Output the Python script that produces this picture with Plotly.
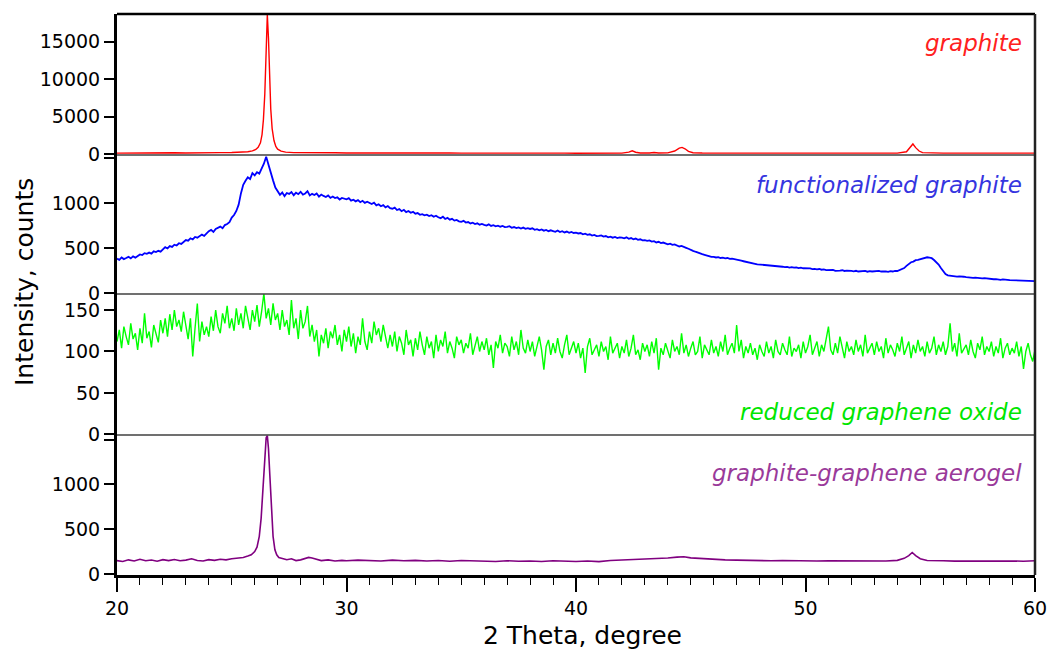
import numpy as np
import plotly.graph_objects as go
from plotly.subplots import make_subplots

# ---------------- data ----------------
X_START = 20.0
X_STEP = 0.1

graphite_x = [20.0, 20.5, 21.0, 21.5, 22.0, 22.5, 23.0, 23.5, 24.0, 24.5, 25.0, 25.4, 25.7, 25.9,
              26.05, 26.15, 26.25, 26.32, 26.38, 26.44, 26.5, 26.55, 26.6, 26.65, 26.7, 26.76, 26.84,
              26.92, 27.0, 27.15, 27.35, 27.7, 28.0, 28.5, 29.0, 29.5, 30.0, 30.5, 31.0, 31.5, 32.0,
              32.5, 33.0, 33.5, 34.0, 34.5, 35.0, 35.5, 36.0, 36.5, 37.0, 37.5, 38.0, 38.5, 39.0,
              39.5, 40.0, 40.5, 41.0, 41.5, 42.0, 42.3, 42.45, 42.6, 42.8, 43.2, 43.4, 43.6, 44.0,
              44.3, 44.5, 44.62, 44.75, 44.9, 45.1, 45.5, 46.0, 47.0, 48.0, 49.0, 50.0, 51.0, 52.0,
              53.0, 54.0, 54.4, 54.55, 54.68, 54.8, 54.95, 55.1, 55.5, 56.0, 57.0, 58.0, 59.0, 60.0]
graphite_y = [110, 140, 120, 160, 130, 170, 140, 180, 150, 190, 200, 230, 300, 420,
              600, 900, 1500, 2600, 4600, 8000, 13500, 18600, 15500, 10000, 6000, 3400, 1800,
              1000, 650, 380, 250, 190, 170, 160, 150, 165, 140, 150, 135, 155, 130,
              145, 125, 140, 120, 135, 120, 130, 115, 130, 115, 125, 110, 125, 110,
              120, 105, 115, 105, 110, 110, 250, 420, 240, 140, 130, 200, 130, 150,
              400, 780, 880, 700, 350, 170, 130, 120, 115, 120, 110, 115, 110, 115,
              110, 120, 300, 800, 1340, 850, 400, 180, 130, 120, 115, 120, 110, 115]

func_graphite_y = [
    385, 372, 398, 380, 392, 405, 388, 410, 396, 418,
    432, 425, 446, 438, 452, 441, 466, 458, 472, 463,
    488, 512, 498, 524, 515, 540, 531, 556, 548, 571,
    592, 585, 611, 598, 626, 618, 640, 652, 637, 668,
    690, 705, 682, 716, 728, 741, 722, 758, 770, 790,
    842, 870, 915, 985, 1110, 1205, 1250, 1290, 1270, 1335,
    1310, 1345, 1330, 1380, 1440, 1517, 1420, 1350, 1255, 1175,
    1135, 1095, 1120, 1080, 1115, 1105, 1125, 1090, 1118, 1102,
    1128, 1096, 1110, 1135, 1088, 1105, 1092, 1110, 1075, 1098,
    1082, 1070, 1088, 1060, 1075, 1058, 1066, 1042, 1060, 1050,
    1045, 1058, 1030, 1040, 1022, 1035, 1012, 1028, 1005, 1018,
    1000, 992, 1008, 978, 990, 968, 980, 955, 970, 946,
    940, 952, 925, 935, 912, 928, 902, 915, 895, 905,
    885, 892, 872, 880, 866, 874, 858, 868, 850, 862,
    845, 835, 852, 826, 838, 818, 828, 808, 816, 800,
    795, 805, 786, 792, 776, 784, 770, 778, 762, 770,
    760, 752, 766, 748, 756, 744, 752, 740, 748, 736,
    738, 746, 728, 736, 724, 732, 720, 730, 716, 724,
    715, 722, 706, 712, 700, 710, 696, 704, 690, 700,
    692, 684, 698, 680, 690, 676, 686, 672, 682, 670,
    674, 665, 670, 656, 662, 650, 656, 642, 648, 636,
    637, 644, 630, 636, 622, 630, 618, 626, 614, 622,
    618, 610, 622, 606, 614, 600, 608, 594, 600, 588,
    590, 582, 588, 574, 580, 565, 572, 558, 564, 552,
    545, 552, 538, 544, 530, 520, 526, 512, 505, 495,
    480, 472, 462, 450, 442, 435, 428, 418, 412, 405,
    405, 398, 402, 392, 396, 388, 392, 382, 386, 378,
    375, 368, 362, 356, 352, 348, 340, 335, 328, 322,
    320, 314, 318, 308, 312, 305, 309, 300, 304, 296,
    295, 290, 294, 286, 290, 285, 288, 280, 284, 278,
    278, 272, 276, 268, 272, 266, 270, 262, 265, 258,
    258, 254, 260, 250, 255, 252, 256, 248, 252, 246,
    248, 244, 250, 242, 247, 245, 249, 240, 246, 242,
    245, 240, 248, 242, 246, 243, 238, 246, 242, 250,
    248, 256, 268, 280, 305, 330, 345, 352, 368, 372,
    380, 388, 395, 400, 396, 390, 370, 350, 320, 280,
    240, 215, 200, 196, 190, 192, 186, 188, 182, 184,
    180, 176, 178, 172, 174, 170, 172, 166, 168, 164,
    160, 162, 156, 158, 152, 150, 154, 148, 150, 146,
    145, 148, 142, 146, 140, 143, 138, 141, 136, 139,
    135]

rgo_y = [
    112, 126, 104, 130, 118, 108, 134, 115, 122, 102,
    128, 110, 146, 116, 124, 105, 132, 120, 111, 138,
    122, 140, 118, 145, 126, 150, 130, 138, 124, 148,
    132, 115, 140, 94, 128, 158, 112, 136, 120, 130,
    118, 142, 125, 150, 130, 122, 146, 134, 155, 128,
    140, 125, 152, 132, 146, 128, 155, 138, 126, 150,
    136, 156, 130, 148, 170, 140, 152, 132, 158, 138,
    146, 126, 150, 130, 138, 120, 162, 128, 140, 115,
    150, 128, 136, 155, 118, 132, 112, 126, 94, 120,
    110, 128, 104, 124, 116, 132, 108, 120, 100, 126,
    112, 130, 106, 122, 98, 118, 108, 140, 112, 102,
    124, 110, 136, 120, 128, 112, 132, 118, 104, 120,
    106, 124, 100, 118, 110, 96, 126, 108, 114, 94,
    116, 102, 124, 108, 96, 118, 104, 112, 92, 120,
    100, 114, 106, 124, 98, 112, 104, 92, 118, 108,
    114, 98, 110, 104, 122, 96, 108, 118, 100, 112,
    102, 116, 96, 108, 80, 112, 104, 120, 98, 110,
    106, 94, 118, 102, 112, 96, 126, 104, 98, 114,
    100, 112, 94, 108, 118, 102, 78, 106, 114, 96,
    110, 98, 116, 100, 92, 108, 120, 96, 104, 112,
    98, 110, 92, 104, 74, 106, 116, 96, 102, 108,
    94, 112, 100, 106, 90, 118, 98, 104, 110, 92,
    106, 98, 114, 94, 104, 120, 96, 102, 90, 110,
    100, 108, 94, 112, 98, 116, 78, 104, 96, 110,
    102, 92, 114, 100, 106, 96, 122, 98, 108, 94,
    104, 112, 96, 100, 118, 92, 108, 102, 96, 114,
    98, 106, 94, 112, 100, 120, 96, 104, 110, 98,
    132, 100, 114, 92, 106, 98, 110, 96, 104, 90,
    108, 100, 94, 112, 98, 106, 92, 114, 100, 96,
    110, 102, 96, 118, 94, 104, 100, 108, 92, 112,
    98, 106, 120, 96, 104, 112, 94, 108, 100, 116,
    130, 102, 96, 110, 98, 118, 104, 92, 112, 100,
    106, 96, 114, 100, 108, 94, 120, 98, 104, 110,
    96, 112, 100, 106, 92, 116, 98, 108, 102, 94,
    110, 100, 118, 96, 104, 112, 92, 108, 98, 114,
    100, 106, 94, 112, 98, 104, 118, 96, 108, 100,
    112, 96, 106, 134, 100, 110, 94, 122, 98, 104,
    108, 96, 114, 100, 92, 110, 102, 118, 96, 106,
    100, 112, 94, 106, 98, 116, 92, 104, 110, 96,
    104, 98, 112, 94, 106, 79, 100, 110, 96, 88,
    102]

aerogel_x = [20.0, 20.25, 20.5, 20.75, 21.0, 21.25, 21.5, 21.75, 22.0, 22.25, 22.5, 22.75, 23.0,
             23.25, 23.5, 23.75, 24.0, 24.25, 24.5, 24.75, 25.0, 25.25, 25.5, 25.7, 25.85, 26.0,
             26.1, 26.2, 26.28, 26.36, 26.44, 26.5, 26.55, 26.6, 26.66, 26.72, 26.8, 26.88, 26.96,
             27.05, 27.2, 27.4, 27.6, 27.8, 28.0, 28.2, 28.35, 28.5, 28.7, 28.9, 29.2, 29.5, 29.8,
             30.0, 30.5, 31.0, 31.5, 32.0, 32.5, 33.0, 33.5, 34.0, 34.5, 35.0, 35.5, 36.0, 36.5,
             37.0, 37.5, 38.0, 38.5, 39.0, 39.5, 40.0, 40.5, 41.0, 41.5, 42.0, 42.5, 43.0, 43.5,
             44.0, 44.4, 44.7, 45.0, 45.5, 46.0, 46.5, 47.0, 47.5, 48.0, 48.5, 49.0, 49.5, 50.0,
             50.5, 51.0, 51.5, 52.0, 52.5, 53.0, 53.5, 54.0, 54.3, 54.5, 54.65, 54.8, 55.0, 55.3,
             55.6, 56.0, 56.5, 57.0, 57.5, 58.0, 58.5, 59.0, 59.5, 60.0]
aerogel_y = [150, 140, 158, 145, 165, 148, 156, 142, 160, 150, 162, 148, 155,
             170, 150, 145, 160, 152, 165, 158, 170, 175, 185, 200, 215, 250,
             300, 420, 620, 950, 1300, 1520, 1545, 1400, 1100, 750, 420, 270, 215,
             185, 175, 160, 170, 150, 158, 175, 185, 178, 160, 150, 158, 145, 152,
             148, 155, 150, 145, 155, 148, 152, 145, 150, 142, 150, 145, 148, 140,
             148, 142, 146, 140, 148, 142, 140, 146, 138, 150, 155, 162, 165, 172,
             178, 188, 192, 180, 170, 162, 158, 155, 150, 152, 148, 150, 146, 150,
             145, 148, 146, 150, 144, 148, 146, 152, 175, 205, 240, 205, 170, 150,
             146, 148, 144, 146, 142, 148, 144, 146, 142, 148]

panel_labels = ["graphite", "functionalized graphite",
                "reduced graphene oxide", "graphite-graphene aerogel"]
y_tickvals = [[0, 5000, 10000, 15000], [0, 500, 1000, 1500],
              [0, 50, 100, 150], [0, 500, 1000, 1500]]
y_ticktext = [["0", "5000", "10000", "15000"], ["0", "500", "1000", ""],
              ["0", "50", "100", "150"], ["0", "500", "1000", ""]]
x_tickvals = [20, 30, 40, 50, 60]

# ---------------- styling ----------------
line_colors = ["#ff0000", "#0000ff", "#00ff00", "#800080"]
line_widths = [1.4, 1.8, 1.4, 1.6]
label_colors = ["#ff2020", "#3535e0", "#00e600", "#9a3a9a"]
y_ranges = [[-134, 18717], [-8, 1537], [-0.85, 169.4], [-11, 1551]]
FONT = "DejaVu Sans"

W, H = 1049, 650
ML, MR, MT, MB = 117, 14, 14, 75
PH = H - MT - MB
PW = W - ML - MR
bounds_px = [14, 155, 294, 435, 575]          # panel edges, from top


def py(p):  # pixel y -> paper y
    return (H - MB - p) / PH


def px(p):  # pixel x -> paper x
    return (p - ML) / PW


fine_x = [round(X_START + X_STEP * i, 2) for i in range(len(func_graphite_y))]
rgo_x = [round(X_START + X_STEP * i, 2) for i in range(len(rgo_y))]

series = [(graphite_x, graphite_y), (fine_x, func_graphite_y),
          (rgo_x, rgo_y), (aerogel_x, aerogel_y)]

fig = make_subplots(rows=4, cols=1, shared_xaxes=True, vertical_spacing=0)

for i, (xs, ys) in enumerate(series):
    fig.add_trace(go.Scatter(x=xs, y=ys, mode="lines",
                             line=dict(color=line_colors[i], width=line_widths[i]),
                             showlegend=False), row=i + 1, col=1)

for i in range(4):
    top = py(bounds_px[i])
    bot = py(bounds_px[i + 1])
    yname = "yaxis" if i == 0 else f"yaxis{i + 1}"
    fig.layout[yname].update(
        domain=[bot, top], range=y_ranges[i], tickvals=y_tickvals[i],
        ticktext=y_ticktext[i], ticks="outside", ticklen=10, tickwidth=1.5,
        tickcolor="black", showline=True, linewidth=3, linecolor="black",
        showgrid=False, zeroline=False, automargin=False,
        tickfont=dict(family=FONT, size=19, color="black"))
    xname = "xaxis" if i == 0 else f"xaxis{i + 1}"
    if i < 3:
        fig.layout[xname].update(range=[20, 60], showticklabels=False, ticks="",
                                 showline=False, showgrid=False, zeroline=False,
                                 automargin=False)
    else:
        fig.layout[xname].update(
            range=[20, 60], tickvals=x_tickvals, ticks="outside", ticklen=14,
            tickwidth=1.5, tickcolor="black", showline=True, linewidth=2.5,
            linecolor="black", showgrid=False, zeroline=False, automargin=False,
            minor=dict(dtick=1, ticks="outside", ticklen=7, tickwidth=1.3,
                       tickcolor="black"),
            tickfont=dict(family=FONT, size=19, color="black"))

shapes = []
# panel separators
for b in bounds_px[1:4]:
    shapes.append(dict(type="line", xref="paper", yref="paper", x0=0, x1=1,
                       y0=py(b), y1=py(b), line=dict(color="#404040", width=1.5)))
# top border and right border
shapes.append(dict(type="line", xref="paper", yref="paper", x0=0, x1=1, y0=1, y1=1,
                   line=dict(color="black", width=2.5)))
shapes.append(dict(type="line", xref="paper", yref="paper", x0=1, x1=1, y0=0, y1=1,
                   line=dict(color="#222222", width=2.5)))

label_y_px = [43, 185, 412, 473]
annotations = []
for i, t in enumerate(panel_labels):
    annotations.append(dict(text=f"<i>{t}</i>", xref="paper", yref="paper",
                            x=px(1024), y=py(label_y_px[i]), xanchor="right",
                            yanchor="middle", showarrow=False,
                            font=dict(family=FONT, size=23, color=label_colors[i])))
annotations.append(dict(text="Intensity, counts", xref="paper", yref="paper",
                        x=px(25), y=py(282), textangle=-90, xanchor="center",
                        yanchor="middle", showarrow=False,
                        font=dict(family=FONT, size=25, color="black")))
annotations.append(dict(text="2 Theta, degree", xref="paper", yref="paper",
                        x=px(582), y=py(635), xanchor="center", yanchor="middle",
                        showarrow=False, font=dict(family=FONT, size=25, color="black")))

fig.update_layout(width=W, height=H, autosize=False,
                  margin=dict(l=ML, r=MR, t=MT, b=MB, autoexpand=False),
                  plot_bgcolor="white", paper_bgcolor="white",
                  shapes=shapes, annotations=annotations, showlegend=False)

fig.write_html("out.html",
               config={"responsive": False, "displayModeBar": False},
               post_script="document.body.style.margin='0';"
                           "document.body.style.overflow='hidden';")
